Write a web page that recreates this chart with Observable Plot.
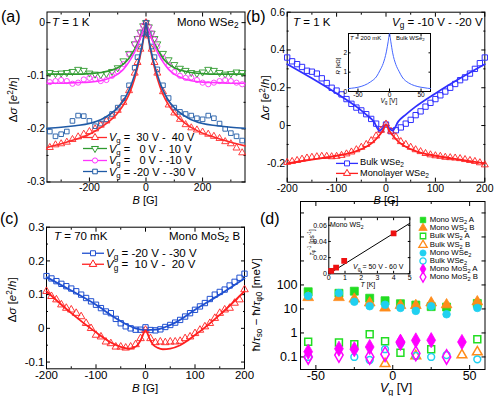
<!DOCTYPE html>
<html><head><meta charset="utf-8">
<script src="https://cdn.jsdelivr.net/npm/d3@7"></script>
<script src="https://cdn.jsdelivr.net/npm/@observablehq/plot@0.6"></script>
<style>
html,body{margin:0;padding:0;background:#fff;}
#fig{position:relative;width:495px;height:396px;overflow:hidden;background:#fff;font-family:"Liberation Sans",Arial,Helvetica,sans-serif;color:#000;}
.t{position:absolute;white-space:pre;line-height:1;}
.t sub,.lg sub{font-size:72%;vertical-align:-0.3em;line-height:0;}
.t sup,.lg sup{font-size:72%;vertical-align:0.5em;line-height:0;}
.lg{position:absolute;white-space:pre;line-height:1;display:flex;align-items:center;}
.lg svg{overflow:visible;margin-right:2px;}
</style></head><body><div id="fig"></div>
<script>
// ---------- Panel (a): Mono WSe2, T = 1 K ----------
const aB = [-340,-320,-300,-280,-260,-240,-220,-200,-180,-160,-140,-120,-100,-80,-60,-40,-30,-20,-10,0,10,20,30,40,60,80,100,120,140,160,180,200,220,240,260,280,300,320,340];
const aGreen = [-0.094,-0.096,-0.095,-0.094,-0.092,-0.088,-0.090,-0.095,-0.097,-0.098,-0.096,-0.092,-0.085,-0.072,-0.058,-0.040,-0.030,-0.018,-0.006,0,-0.008,-0.020,-0.030,-0.040,-0.058,-0.070,-0.079,-0.086,-0.090,-0.094,-0.096,-0.093,-0.088,-0.090,-0.094,-0.097,-0.096,-0.093,-0.094];
const aMagenta = [-0.112,-0.110,-0.108,-0.110,-0.115,-0.113,-0.107,-0.104,-0.106,-0.110,-0.108,-0.100,-0.092,-0.078,-0.060,-0.040,-0.030,-0.018,-0.006,0,-0.008,-0.020,-0.032,-0.045,-0.066,-0.080,-0.093,-0.100,-0.104,-0.103,-0.108,-0.113,-0.116,-0.113,-0.110,-0.108,-0.110,-0.113,-0.116];
const aRed = [-0.235,-0.230,-0.228,-0.225,-0.220,-0.215,-0.210,-0.205,-0.200,-0.193,-0.185,-0.176,-0.165,-0.150,-0.128,-0.095,-0.075,-0.050,-0.022,0,-0.025,-0.050,-0.075,-0.095,-0.130,-0.155,-0.170,-0.182,-0.192,-0.198,-0.202,-0.206,-0.210,-0.214,-0.218,-0.224,-0.228,-0.236,-0.245];
const aBlue = [-0.205,-0.214,-0.210,-0.205,-0.185,-0.175,-0.176,-0.185,-0.195,-0.190,-0.182,-0.172,-0.160,-0.142,-0.118,-0.085,-0.065,-0.045,-0.020,0,-0.022,-0.045,-0.065,-0.088,-0.118,-0.142,-0.160,-0.168,-0.172,-0.175,-0.180,-0.182,-0.175,-0.180,-0.190,-0.200,-0.208,-0.214,-0.222];
const aFitB = [-350,-300,-250,-200,-150,-100,-80,-60,-40,-30,-20,-10,-5,0,5,10,20,30,40,60,80,100,150,200,250,300,350];
const aGreenFit = [-0.097,-0.097,-0.097,-0.096,-0.093,-0.085,-0.078,-0.067,-0.050,-0.040,-0.028,-0.014,-0.007,0,-0.007,-0.014,-0.028,-0.040,-0.050,-0.067,-0.078,-0.085,-0.093,-0.096,-0.097,-0.097,-0.097];
const aMagentaFit = [-0.114,-0.114,-0.113,-0.112,-0.108,-0.097,-0.088,-0.074,-0.055,-0.043,-0.030,-0.015,-0.008,0,-0.008,-0.015,-0.030,-0.043,-0.055,-0.074,-0.088,-0.097,-0.108,-0.112,-0.113,-0.114,-0.114];
const aRedFit = [-0.235,-0.228,-0.220,-0.210,-0.194,-0.170,-0.155,-0.135,-0.105,-0.085,-0.062,-0.035,-0.018,0,-0.018,-0.035,-0.062,-0.085,-0.105,-0.135,-0.155,-0.170,-0.194,-0.208,-0.217,-0.225,-0.232];
const aBlueFit = [-0.199,-0.197,-0.194,-0.190,-0.180,-0.160,-0.147,-0.127,-0.098,-0.080,-0.058,-0.032,-0.017,0,-0.017,-0.032,-0.058,-0.080,-0.098,-0.127,-0.147,-0.160,-0.180,-0.190,-0.194,-0.197,-0.199];
const aXTicks = [-200,0,200], aXMinor = [-300,-100,100,300];
const aYTicks = [-0.3,-0.2,-0.1,0], aYMinor = [-0.25,-0.15,-0.05];
const aLegend = ["30 V -  40 V","  0 V -  10 V","  0 V - -10 V","-20 V - -30 V"];

// ---------- Panel (b): Bulk vs Monolayer WSe2 ----------
const bB = [-200,-190,-180,-170,-160,-150,-140,-130,-120,-110,-100,-90,-80,-70,-60,-50,-40,-30,-20,-10,0,10,20,30,40,50,60,70,80,90,100,110,120,130,140,150,160,170,180,190,200];
const bBulk = [0.360,0.340,0.325,0.310,0.290,0.285,0.275,0.250,0.225,0.200,0.185,0.165,0.140,0.115,0.095,0.080,0.060,0.035,0.010,-0.020,0.005,-0.030,-0.025,-0.010,0.010,0.030,0.055,0.075,0.100,0.120,0.140,0.160,0.180,0.200,0.220,0.240,0.255,0.275,0.300,0.330,0.360];
const bMono = [-0.195,-0.190,-0.185,-0.178,-0.172,-0.168,-0.165,-0.163,-0.163,-0.165,-0.163,-0.158,-0.150,-0.140,-0.128,-0.115,-0.100,-0.080,-0.055,-0.025,0.008,-0.030,-0.060,-0.085,-0.100,-0.115,-0.128,-0.138,-0.148,-0.155,-0.160,-0.163,-0.168,-0.170,-0.172,-0.175,-0.180,-0.185,-0.190,-0.197,-0.208];
const bFitB = [-200,-150,-100,-60,-40,-25,-13,-6,0,6,13,25,40,60,100,150,200];
const bBulkFit = [0.325,0.250,0.170,0.100,0.058,0.022,-0.027,-0.012,0.006,-0.012,-0.027,0.022,0.058,0.100,0.170,0.250,0.325];
const bMonoFit = [-0.200,-0.180,-0.160,-0.135,-0.112,-0.085,-0.050,-0.025,0.006,-0.025,-0.050,-0.085,-0.112,-0.135,-0.160,-0.180,-0.200];
const bInV = [-65,-60,-50,-40,-30,-20,-15,-10,-5,-2,0,2,5,10,15,20,30,40,50,60,65];
const bInR = [0.15,0.17,0.22,0.32,0.50,0.80,1.10,1.45,2.05,2.60,3.00,2.60,2.00,1.40,1.05,0.75,0.45,0.30,0.22,0.17,0.15];

// ---------- Panel (c): Mono MoS2 B, T = 70 mK ----------
const cB = bB;
const cBlue = [0.155,0.148,0.140,0.132,0.125,0.118,0.110,0.100,0.090,0.080,0.070,0.060,0.050,0.045,0.028,0.015,0.006,0.000,-0.004,-0.004,0.003,-0.005,-0.006,-0.003,0.004,0.010,0.017,0.025,0.035,0.045,0.055,0.065,0.075,0.087,0.100,0.108,0.115,0.127,0.138,0.150,0.162];
const cRed = [0.110,0.095,0.085,0.070,0.060,0.055,0.045,0.035,0.015,0.000,-0.020,-0.025,-0.040,-0.045,-0.055,-0.055,-0.058,-0.055,-0.048,-0.030,-0.005,-0.030,-0.042,-0.040,-0.042,-0.040,-0.040,-0.038,-0.030,-0.025,-0.015,-0.005,0.005,0.015,0.030,0.045,0.055,0.060,0.075,0.085,0.115];
const cBlueFitB = [-200,-150,-100,-60,-40,-20,0,20,40,60,100,150,200];
const cBlueFit = [0.152,0.112,0.070,0.030,0.013,0.000,-0.005,-0.004,0.004,0.017,0.055,0.100,0.148];
const cRedFitB = [-200,-150,-100,-70,-50,-35,-25,-15,-8,-3,0,3,8,15,25,35,50,70,100,150,200];
const cRedFit = [0.110,0.045,-0.012,-0.042,-0.055,-0.060,-0.058,-0.048,-0.030,-0.012,-0.005,-0.012,-0.030,-0.048,-0.058,-0.062,-0.060,-0.050,-0.020,0.040,0.110];

// ---------- Panel (d): rates vs gate voltage ----------
const dMonoWS2A_V = [-55,-35,-25,-15,-5,5,15,25,35,55];
const dMonoWS2A = [52,45,55,28,22,16.5,14.5,12.5,12,17];
const dMonoWS2B_V = [-55,-35,-25,-15,-5,5,15,25,35,55];
const dMonoWS2B = [30,30,26,18,11,14,14,18,15,20];
const dBulkWS2A_V = [-55,-35,-25,-15,-5,5,25,55];
const dBulkWS2A = [0.43,0.40,0.34,0.88,0.45,0.15,0.21,0.55];
const dBulkWS2B_V = [-5,15,45,55];
const dBulkWS2B = [0.052,0.11,0.12,0.16];
const dMonoWSe2_V = [-55,-35,-25,-15,-5,5,15,25,35,55];
const dMonoWSe2 = [35,46,20,13,15,11,8.3,13,6,11];
const dBulkWSe2_V = [-55,-25,-15,-5,5,15,25,35,55];
const dBulkWSe2 = [0.10,0.10,0.075,0.21,0.36,0.11,0.10,0.12,0.08];
const dMonoMoS2A_V = [-55,-35,-25,-15,5,15,25,45];
const dMonoMoS2A = [0.165,0.22,0.21,0.26,0.43,0.49,0.50,0.42];
const dMonoMoS2B_V = [-55,-35,-15,-5,5,15,35];
const dMonoMoS2B = [0.10,0.12,0.10,0.13,0.40,0.14,0.10];
const dErrV = [55], dErrLo = [8], dErrHi = [17];
const dInT = [0.15,0.45,0.95,4.0];
const dInRate = [0.0035,0.0075,0.016,0.050];
const dInFitT = [0,5], dInFit = [0,0.0625];
const dYTicks = [0.1,1,10,100,1000,10000,100000];
const dLegend = ["Mono WS<sub>2</sub> A","Mono WS<sub>2</sub> B","Bulk WS<sub>2</sub> A","Bulk WS<sub>2</sub> B","Mono WSe<sub>2</sub>","Bulk WSe<sub>2</sub>","Mono MoS<sub>2</sub> A","Mono MoS<sub>2</sub> B"];

// ---------- helpers ----------
const FONT = '"Liberation Sans", Arial, Helvetica, sans-serif';
const fig = document.getElementById("fig");
const triDown = {draw(ctx, size) {
  const c = {moveTo: (x, y) => ctx.moveTo(x, -y), lineTo: (x, y) => ctx.lineTo(x, -y), closePath: () => ctx.closePath()};
  d3.symbolTriangle.draw(c, size);
}};
const dash = (s) => String(s).replace("\u2212", "-");
function fmtDec(d) { return d === 0 ? "0" : dash(d3.format(".1f")(d)); }

function axes({xt, xm = [], yt, ym = [], xf, yf, fs = 11, tl = 4, ml = 2, xpad = 3, ypad = 2}) {
  const m = [Plot.frame({stroke: "#000", strokeWidth: 1})];
  m.push(Plot.axisX(xt, {anchor: "bottom", tickSize: 0, tickPadding: xpad, tickFormat: xf, fontSize: fs, label: null}));
  m.push(Plot.axisY(yt, {anchor: "left", tickSize: 0, tickPadding: ypad, tickFormat: yf, fontSize: fs, label: null}));
  const add = (xs, ys, len) => {
    if (xs.length) {
      m.push(Plot.axisX(xs, {anchor: "bottom", tickSize: len, dy: -len, fill: "none", label: null}));
      m.push(Plot.axisX(xs, {anchor: "top", tickSize: len, dy: len, fill: "none", label: null}));
    }
    if (ys.length) {
      m.push(Plot.axisY(ys, {anchor: "left", tickSize: len, dx: len, fill: "none", label: null}));
      m.push(Plot.axisY(ys, {anchor: "right", tickSize: len, dx: -len, fill: "none", label: null}));
    }
  };
  add(xt, yt, tl);
  add(xm, ym, ml);
  return m;
}
function mk(opts, left, top) {
  const el = Plot.plot({...opts, style: {fontFamily: FONT, fontSize: "11px", color: "#000", background: "transparent", overflow: "visible"}});
  el.style.position = "absolute"; el.style.left = left + "px"; el.style.top = top + "px";
  fig.appendChild(el);
  return el;
}
function txt(html, x, y, {size = 11, anchor = "start", rotate = false} = {}) {
  const d = document.createElement("div");
  d.className = "t"; d.innerHTML = html;
  d.style.fontSize = size + "px"; d.style.left = "0px"; d.style.top = "0px";
  fig.appendChild(d);
  const w = d.offsetWidth, h = d.offsetHeight;
  if (rotate) {
    d.style.left = (x - w / 2) + "px"; d.style.top = (y - h / 2) + "px";
    d.style.transformOrigin = "50% 50%";
    d.style.transform = "rotate(-90deg)";
  } else {
    const dx = anchor === "start" ? 0 : anchor === "middle" ? w / 2 : w;
    d.style.left = (x - dx) + "px"; d.style.top = (y - h / 2) + "px";
  }
}
function legendRow(x, y, color, sym, html, {w = 22, r = 2.6, fill = "#fff", line = true, fs = 11, sw = 1} = {}) {
  const d = document.createElement("div"); d.className = "lg";
  const p = d3.symbol(sym, Math.PI * r * r)();
  d.innerHTML = `<svg width="${w}" height="8">${line ? `<line x1="0" x2="${w}" y1="4" y2="4" stroke="${color}" stroke-width="1.3"/>` : ""}<path d="${p}" transform="translate(${w / 2},4)" fill="${fill}" stroke="${color}" stroke-width="${sw}"/></svg><span>${html}</span>`;
  d.style.left = x + "px"; d.style.top = y + "px"; d.style.fontSize = fs + "px"; d.style.transform = "translateY(-50%)";
  fig.appendChild(d);
}

// ---------- colours ----------
const A_RED = "#ff2a2a", A_GREEN = "#2f9a2f", A_MAG = "#ff33ff", A_BLUE = "#1f5aa6";
const B_BLUE = "#3030ff", B_RED = "#ff2020";
const C_BLUE = "#2050d0", C_RED = "#ff2020";
const D_GREEN = "#22dd22", D_ORANGE = "#ff8c1a", D_CYAN = "#20d0f0", D_MAG = "#ff00ff";

// ---------- (a) ----------
const dotA = (y, color, symbol) => Plot.dot(aB, {x: aB, y, stroke: color, symbol, r: 2.6, strokeWidth: 0.9, fill: "none"});
const lineA = (y, color) => Plot.line(aFitB, {x: aFitB, y, stroke: color, strokeWidth: 1.6, curve: "monotone-x"});
mk({
  width: 250, height: 200, marginLeft: 46.5, marginRight: 5.5, marginTop: 11.5, marginBottom: 18.5,
  x: {domain: [-350, 350], label: null}, y: {domain: [-0.3, 0.02], label: null},
  marks: [
    ...axes({xt: aXTicks, xm: aXMinor, yt: aYTicks, ym: aYMinor, xf: (d) => dash(d3.format("d")(d)), yf: fmtDec, fs: 10.5, xpad: 2}),
    dotA(aGreen, A_GREEN, triDown), dotA(aMagenta, A_MAG, "circle"), dotA(aRed, A_RED, "triangle"), dotA(aBlue, A_BLUE, "square"),
    lineA(aGreenFit, A_GREEN), lineA(aMagentaFit, A_MAG), lineA(aRedFit, A_RED), lineA(aBlueFit, A_BLUE)
  ]
}, 0, 0);

// ---------- (b) ----------
mk({
  width: 250, height: 200, marginLeft: 41.7, marginRight: 10.7, marginTop: 11.7, marginBottom: 18.3,
  x: {domain: [-200, 200], label: null}, y: {domain: [-0.3, 0.6], label: null},
  marks: [
    ...axes({xt: [-200,-100,0,100,200], xm: [-150,-50,50,150], yt: [-0.2,0,0.2,0.4,0.6], ym: [-0.1,0.1,0.3,0.5], xf: (d) => dash(d3.format("d")(d)), yf: fmtDec, fs: 10.5, xpad: 2}),
    Plot.dot(bB, {x: bB, y: bBulk, stroke: B_BLUE, symbol: "square", r: 3, strokeWidth: 1, fill: "none"}),
    Plot.dot(bB, {x: bB, y: bMono, stroke: B_RED, symbol: "triangle", r: 2.6, strokeWidth: 0.9, fill: "none"}),
    Plot.line(bFitB, {x: bFitB, y: bBulkFit, stroke: B_BLUE, strokeWidth: 1.8, curve: "monotone-x"}),
    Plot.line(bFitB, {x: bFitB, y: bMonoFit, stroke: B_RED, strokeWidth: 1.8, curve: "monotone-x"})
  ]
}, 245, 0);

// (b) inset: frame x 348..430, y 33..91
mk({
  width: 110, height: 80, marginLeft: 18, marginRight: 10, marginTop: 8, marginBottom: 14,
  x: {domain: [-65, 65], label: null}, y: {domain: [0, 3], label: null},
  marks: [
    Plot.frame({fill: "#fff", stroke: "none"}),
    ...axes({xt: [-50,0,50], xm: [], yt: [0,1,2], ym: [], xf: (d) => dash(d3.format("d")(d)), yf: (d) => String(d), fs: 6.5, tl: 2.5, xpad: 1, ypad: 1.5}),
    Plot.line(bInV, {x: bInV, y: bInR, stroke: "#4466ff", strokeWidth: 1, curve: "monotone-x"})
  ]
}, 330, 25);

// ---------- (c) ----------
mk({
  width: 250, height: 201, marginLeft: 46, marginRight: 6, marginTop: 31.7, marginBottom: 27.7,
  x: {domain: [-200, 200], label: null}, y: {domain: [-0.12, 0.3], label: null},
  marks: [
    ...axes({xt: [-200,-100,0,100,200], xm: [-150,-50,50,150], yt: [-0.1,0,0.1,0.2,0.3], ym: [-0.05,0.05,0.15,0.25], xf: (d) => dash(d3.format("d")(d)), yf: fmtDec, fs: 11.5, xpad: 2}),
    Plot.dot(cB, {x: cB, y: cBlue, stroke: C_BLUE, symbol: "square", r: 3, strokeWidth: 1, fill: "none"}),
    Plot.dot(cB, {x: cB, y: cRed, stroke: C_RED, symbol: "triangle", r: 2.8, strokeWidth: 0.9, fill: "none"}),
    Plot.line(cBlueFitB, {x: cBlueFitB, y: cBlueFit, stroke: C_BLUE, strokeWidth: 1.8, curve: "monotone-x"}),
    Plot.line(cRedFitB, {x: cRedFitB, y: cRedFit, stroke: C_RED, strokeWidth: 1.8, curve: "monotone-x"})
  ]
}, 0, 195);

// ---------- (d) ----------
const dd = (xs, ys, color, symbol, filled, r = 4.3) => Plot.dot(xs, {x: xs, y: ys, symbol, r, stroke: color, strokeWidth: filled ? 0.8 : 1.5, fill: filled ? color : "none"});
mk({
  width: 250, height: 201, marginLeft: 55, marginRight: 10.5, marginTop: 6, marginBottom: 27,
  x: {domain: [-60, 60], label: null}, y: {type: "log", domain: [0.03, 3e5], label: null},
  marks: [
    ...axes({xt: [-50,0,50], xm: [-25,25], yt: dYTicks, ym: [], xf: (d) => dash(d3.format("d")(d)), yf: (d) => d <= 100 ? String(d) : "", fs: 12.5, tl: 4, ml: 2, xpad: 2, ypad: 3}),
    Plot.ruleX(dErrV, {x: dErrV, y1: dErrLo, y2: dErrHi, stroke: D_CYAN, strokeWidth: 1.2}),
    dd(dBulkWS2A_V, dBulkWS2A, D_GREEN, "square", false, 3.9),
    dd(dBulkWS2B_V, dBulkWS2B, D_ORANGE, "triangle", false, 3.6),
    dd(dBulkWSe2_V, dBulkWSe2, D_CYAN, "circle", false, 3.4),
    dd(dMonoMoS2B_V, dMonoMoS2B, D_MAG, "diamond", false, 4.4),
    dd(dMonoWS2A_V, dMonoWS2A, D_GREEN, "square", true, 4.5),
    dd(dMonoWS2B_V, dMonoWS2B, D_ORANGE, "triangle", true, 4.0),
    dd(dMonoWSe2_V, dMonoWSe2, D_CYAN, "circle", true, 3.8),
    dd(dMonoMoS2A_V, dMonoMoS2A, D_MAG, "diamond", true, 4.6)
  ]
}, 245, 195);

// (d) inset
mk({
  width: 115, height: 80, marginLeft: 28.3, marginRight: 5.7, marginTop: 8.7, marginBottom: 14.7,
  x: {domain: [0, 5], label: null}, y: {domain: [0, 0.07], label: null},
  marks: [
    Plot.frame({fill: "#fff", stroke: "none"}),
    ...axes({xt: [0,1,2,3,4,5], xm: [], yt: [0,0.02,0.04,0.06], ym: [], xf: (d) => String(d), yf: (d) => d === 0 ? "0" : d3.format(".2f")(d), fs: 7, tl: 2.5, xpad: 1.5, ypad: 2}),
    Plot.line(dInFitT, {x: dInFitT, y: dInFit, stroke: "#000", strokeWidth: 1}),
    Plot.dot(dInT, {x: dInT, y: dInRate, symbol: "square", r: 2.4, fill: "#ee1111", stroke: "#ee1111"})
  ]
}, 300, 208);

// ---------- texts ----------
const DS = "Δ<i>σ</i> [<i>e</i><sup>2</sup>/<i>h</i>]";
txt("(a)", 1, 17, {size: 16});
txt("(b)", 246, 17, {size: 16});
txt("(c)", 0, 219, {size: 16});
txt("(d)", 260, 219, {size: 16});

txt("<i>T</i> = 1 K", 52, 23, {size: 11.5});
txt("Mono WSe<sub>2</sub>", 239, 23, {size: 11.5, anchor: "end"});
txt(DS, 13, 100, {size: 11.5, rotate: true});
txt("<i>B</i> [G]", 145, 200.5, {size: 11, anchor: "middle"});
const aCols = [A_RED, A_GREEN, A_MAG, A_BLUE], aSyms = [d3.symbolTriangle, triDown, d3.symbolCircle, d3.symbolSquare];
aLegend.forEach((s, i) => legendRow(83, 137 + i * 11.6, aCols[i], aSyms[i], `<i>V</i><sub>g</sub> = ${s.padStart(13, " ")}`, {w: 24, fs: 11}));

txt("<i>T</i> = 1 K", 293, 23, {size: 11.5});
txt("<i>V</i><sub>g</sub> = -10 V - -20 V", 483, 23, {size: 11.5, anchor: "end"});
txt(DS, 265, 98, {size: 11.5, rotate: true});
txt("<i>B</i> [G]", 386, 200.5, {size: 11, anchor: "middle"});
legendRow(336, 163, B_BLUE, d3.symbolSquare, "Bulk WSe<sub>2</sub>", {w: 22, fs: 9.2, r: 2.8});
legendRow(336, 173.5, B_RED, d3.symbolTriangle, "Monolayer WSe<sub>2</sub>", {w: 22, fs: 9.2, r: 2.6});
txt("<i>T</i> = 200 mK", 350, 38, {size: 6});
txt("Bulk WSe<sub>2</sub>", 396, 38, {size: 6});
txt("<i>R</i> [kΩ]", 338.5, 66, {size: 6, rotate: true});
txt("<i>V</i><sub>g</sub> [V]", 389, 101.5, {size: 6.5, anchor: "middle"});

txt("<i>T</i> = 70 mK", 54, 237, {size: 11.5});
txt("Mono MoS<sub>2</sub> B", 240, 237, {size: 11.5, anchor: "end"});
txt(DS, 12, 300, {size: 11.5, rotate: true});
txt("<i>B</i> [G]", 145, 388.5, {size: 11.5, anchor: "middle"});
legendRow(82, 253.5, C_BLUE, d3.symbolSquare, "<i>V</i><sub>g</sub> = -20 V - -30 V", {w: 22, fs: 11.5, r: 2.8});
legendRow(82, 264.5, C_RED, d3.symbolTriangle, "<i>V</i><sub>g</sub> =  10 V -  20 V", {w: 22, fs: 11.5, r: 2.8});

txt("ħ/<i>τ</i><sub>so</sub> − ħ/<i>τ</i><sub>φ0</sub> [meV]", 256, 305, {size: 11.5, rotate: true});
txt("<i>V</i><sub>g</sub> [V]", 396, 388.5, {size: 12.5, anchor: "middle"});
txt("Mono WS<sub>2</sub>", 330, 224, {size: 7});
txt("<i>V</i><sub>g</sub> = 50 V - 60 V", 353, 266, {size: 7});
txt("<i>τ</i><sub>φ</sub><sup>-1</sup> [ps<sup>-1</sup>]", 312, 242, {size: 6.5, rotate: true});
txt("<i>T</i> [K]", 368, 284, {size: 7, anchor: "middle"});
const dCols = [D_GREEN, D_ORANGE, D_GREEN, D_ORANGE, D_CYAN, D_CYAN, D_MAG, D_MAG];
const dSyms = [d3.symbolSquare, d3.symbolTriangle, d3.symbolSquare, d3.symbolTriangle, d3.symbolCircle, d3.symbolCircle, d3.symbolDiamond, d3.symbolDiamond];
const dFill = [true, true, false, false, true, false, true, false];
dLegend.forEach((s, i) => legendRow(417.7, 220 + i * 8.2, dCols[i], dSyms[i], s, {w: 10, fs: 7.8, r: 3.1, line: false, fill: dFill[i] ? dCols[i] : "none", sw: dFill[i] ? 0.8 : 1.3}));
</script></body></html>
